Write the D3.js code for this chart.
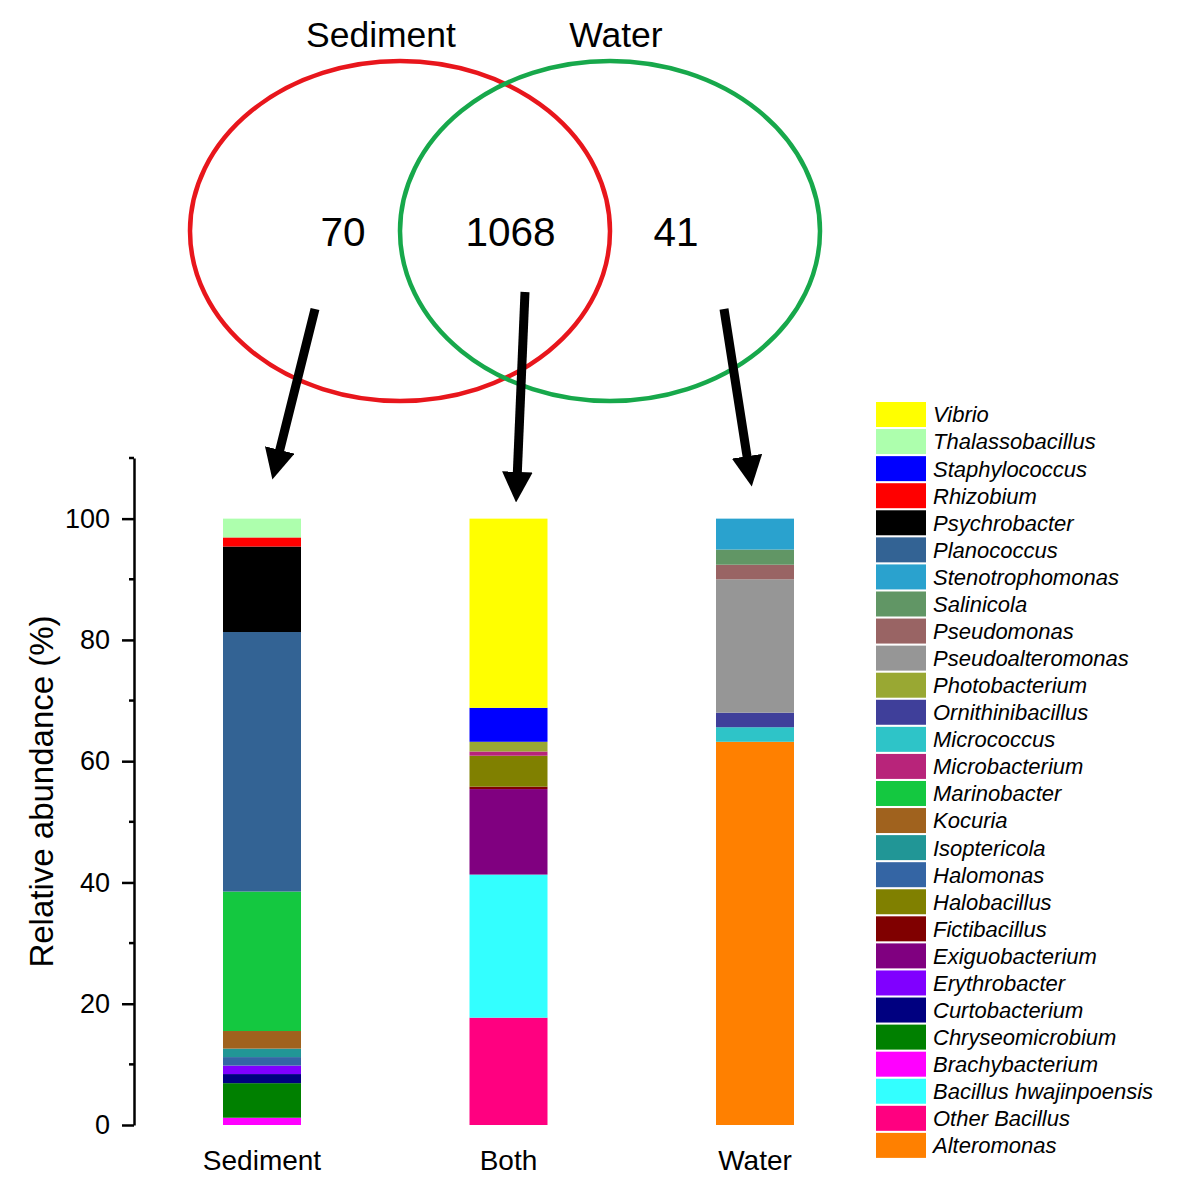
<!DOCTYPE html>
<html lang="en">
<head>
    <meta charset="UTF-8">
    <script src="https://d3js.org/d3.v7.min.js"></script>
    <title>Venn and relative abundance</title>
    <style>
        body { margin: 0; background: #fff; }
        text { font-family: "Liberation Sans", Arial, sans-serif; }
    </style>
</head>
<body>
    <script>
        // venn numbers: only-sediment, shared, only-water
        var vennSets = ["Sediment", "Water"];
        var vennCounts = [70, 1068, 41];

        var samples = ["Sediment", "Both", "Water"];

        // genera, stacked from the bottom of each bar upwards
        var genera = ["Alteromonas", "Other Bacillus", "Bacillus hwajinpoensis", "Brachybacterium",
            "Chryseomicrobium", "Curtobacterium", "Erythrobacter", "Exiguobacterium", "Fictibacillus",
            "Halobacillus", "Halomonas", "Isoptericola", "Kocuria", "Marinobacter", "Microbacterium",
            "Micrococcus", "Ornithinibacillus", "Photobacterium", "Pseudoalteromonas", "Pseudomonas",
            "Salinicola", "Stenotrophomonas", "Planococcus", "Psychrobacter", "Rhizobium",
            "Staphylococcus", "Thalassobacillus", "Vibrio"];

        var generaColors = ["#ff8000", "#ff0080", "#33ffff", "#ff00ff",
            "#008000", "#000080", "#8000ff", "#800080", "#800000",
            "#808000", "#3465a4", "#219696", "#a0621e", "#14c840", "#b8247a",
            "#2ec4c8", "#3f3f9a", "#99a833", "#969696", "#996464",
            "#619665", "#2aa2ce", "#336394", "#000000", "#ff0000",
            "#0000ff", "#adffad", "#ffff00"];

        var sedimentValues = [0, 0, 0, 1.2, 5.7, 1.5, 1.4, 0, 0, 0, 1.4, 1.4, 2.9, 23.0, 0,
            0, 0, 0, 0, 0, 0, 0, 42.8, 14.1, 1.5, 0, 3.1, 0];
        var bothValues = [0, 17.7, 23.6, 0, 0, 0, 0, 14.1, 0.4, 5.1, 0, 0, 0, 0, 0.7,
            0, 0, 1.6, 0, 0, 0, 0, 0, 0, 0, 5.6, 0, 31.2];
        var waterValues = [63.2, 0, 0, 0, 0, 0, 0, 0, 0, 0, 0, 0, 0, 0, 0,
            2.4, 2.4, 0, 22.0, 2.4, 2.5, 5.1, 0, 0, 0, 0, 0, 0];

        var majorTicks = [0, 20, 40, 60, 80, 100];
        var minorTicks = [10, 30, 50, 70, 90, 110];

        var width = 1181, height = 1198;
        var svg = d3.select("body").append("svg")
            .attr("width", width)
            .attr("height", height);

        // ---- venn part ----
        var vennColors = ["#e8161c", "#17a84b"];
        var vennX = d3.scalePoint().domain(vennSets).range([400, 610]);
        var vennCy = 231;

        svg.selectAll("ellipse.venn")
            .data(vennSets)
            .join("ellipse")
            .attr("class", "venn")
            .attr("cx", function (d) { return vennX(d); })
            .attr("cy", vennCy)
            .attr("rx", 210)
            .attr("ry", 170)
            .attr("fill", "none")
            .attr("stroke", function (d, i) { return vennColors[i]; })
            .attr("stroke-width", 4.5);

        svg.selectAll("text.vennlabel")
            .data(vennSets)
            .join("text")
            .attr("class", "vennlabel")
            .attr("x", function (d, i) { return vennX(d) + (i == 0 ? -19 : 6); })
            .attr("y", 47)
            .attr("text-anchor", "middle")
            .attr("font-size", 35.5)
            .text(function (d) { return d; });

        var countX = d3.scalePoint().domain(samples).range([343, 676]);
        svg.selectAll("text.count")
            .data(vennCounts)
            .join("text")
            .attr("class", "count")
            .attr("x", function (d, i) { return countX(samples[i]) + (i == 1 ? 1 : 0); })
            .attr("y", vennCy + 15)
            .attr("text-anchor", "middle")
            .attr("font-size", 40.5)
            .text(function (d) { return d; });

        // ---- stacked bars ----
        var plotTop = 458, plotBottom = 1125, axisX = 134;
        var y = d3.scaleLinear().domain([0, 110]).range([plotBottom, plotTop]);
        var x = d3.scalePoint().domain(samples).range([262, 755]);
        var barW = 78;

        var table = samples.map(function (s, si) {
            var vals = [sedimentValues, bothValues, waterValues][si];
            var row = { sample: s };
            genera.forEach(function (g, gi) { row[g] = vals[gi]; });
            return row;
        });

        var color = d3.scaleOrdinal().domain(genera).range(generaColors);
        var stacked = d3.stack().keys(genera)(table);

        svg.append("g").selectAll("g")
            .data(stacked)
            .join("g")
            .attr("fill", function (d) { return color(d.key); })
            .selectAll("rect")
            .data(function (d) { return d.filter(function (p) { return p[1] - p[0] > 0; }); })
            .join("rect")
            .attr("x", function (d) { return x(d.data.sample) - barW / 2; })
            .attr("width", barW)
            .attr("y", function (d) { return y(d[1]); })
            .attr("height", function (d) { return y(d[0]) - y(d[1]); });

        // y axis, major + minor ticks
        var gAxis = svg.append("g")
            .attr("transform", "translate(" + axisX + ",0)")
            .call(d3.axisLeft(y).tickValues(majorTicks).tickSize(12).tickSizeOuter(0).tickPadding(12));
        gAxis.selectAll("text").attr("font-size", 27).attr("fill", "#000")
            .style("font-family", "'Liberation Sans', Arial, sans-serif");
        gAxis.selectAll("line, path").attr("stroke", "#000").attr("stroke-width", 2.5);

        svg.append("g")
            .attr("transform", "translate(" + axisX + ",0)")
            .selectAll("line")
            .data(minorTicks)
            .join("line")
            .attr("x1", -5).attr("x2", 0)
            .attr("y1", function (d) { return y(d); })
            .attr("y2", function (d) { return y(d); })
            .attr("stroke", "#000").attr("stroke-width", 2.5);

        svg.append("text")
            .attr("transform", "translate(53," + ((plotTop + plotBottom) / 2) + ") rotate(-90)")
            .attr("text-anchor", "middle")
            .attr("font-size", 33)
            .text("Relative abundance (%)");

        svg.selectAll("text.xlabel")
            .data(samples)
            .join("text")
            .attr("class", "xlabel")
            .attr("x", function (d) { return x(d); })
            .attr("y", 1170)
            .attr("text-anchor", "middle")
            .attr("font-size", 28)
            .text(function (d) { return d; });

        // ---- arrows from the venn regions to the bars ----
        var defs = svg.append("defs");
        defs.append("marker")
            .attr("id", "head")
            .attr("viewBox", "0 0 10 10")
            .attr("refX", 2).attr("refY", 5)
            .attr("markerWidth", 3.4).attr("markerHeight", 3.4)
            .attr("markerUnits", "strokeWidth")
            .attr("orient", "auto")
            .append("path")
            .attr("d", "M0,0 L10,5 L0,10 z")
            .attr("fill", "#000");

        var arrowStart = [[315, 309], [525, 292], [724, 309]];
        var arrowEnd = [[272, 481], [516, 504], [752, 488]];
        svg.selectAll("line.arrow")
            .data(samples)
            .join("line")
            .attr("class", "arrow")
            .each(function (d, i) {
                var s = arrowStart[i], e = arrowEnd[i];
                var dx = e[0] - s[0], dy = e[1] - s[1];
                var len = Math.sqrt(dx * dx + dy * dy);
                var cut = 26;
                d3.select(this)
                    .attr("x1", s[0]).attr("y1", s[1])
                    .attr("x2", e[0] - dx / len * cut)
                    .attr("y2", e[1] - dy / len * cut);
            })
            .attr("stroke", "#000")
            .attr("stroke-width", 9)
            .attr("marker-end", "url(#head)");

        // ---- legend ----
        var legendItems = genera.slice().reverse();
        var ly = d3.scaleBand().domain(legendItems).range([402, 402 + 27.07 * legendItems.length]);
        var leg = svg.append("g").selectAll("g")
            .data(legendItems)
            .join("g")
            .attr("transform", function (d) { return "translate(876," + ly(d) + ")"; });
        leg.append("rect")
            .attr("width", 50)
            .attr("height", 25)
            .attr("fill", function (d) { return color(d); });
        leg.append("text")
            .attr("x", 57)
            .attr("y", 12.5)
            .attr("dy", "0.36em")
            .attr("font-size", 22)
            .attr("font-style", "italic")
            .text(function (d) { return d; });
    </script>
</body>
</html>
